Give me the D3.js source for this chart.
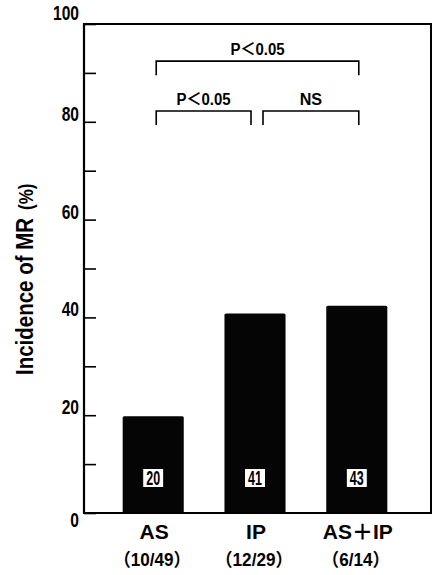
<!DOCTYPE html>
<html>
<head>
<meta charset="utf-8">
<script src="https://cdn.jsdelivr.net/npm/d3@7"></script>
<style>
  body { margin: 0; background: #fff; }
  svg { display: block; }
</style>
</head>
<body>
<svg id="chart" width="434" height="575"></svg>
<script>
// data
var groups = ["AS", "IP", "AS＋IP"];
var counts = ["（10/49）", "（12/29）", "（6/14）"];
var incidence = [19.8, 40.8, 42.4];   // bar heights (%)
var shownValues = ["20", "41", "43"];  // numbers printed in the bars
var yTicks = [0, 20, 40, 60, 80, 100];
var minorTicks = [10, 30, 50, 70, 90];
var comparisons = [
  { from: "AS", to: "AS＋IP", label: "P＜0.05", level: 92.4 },
  { from: "AS", to: "IP", label: "P＜0.05", level: 82.2 },
  { from: "IP", to: "AS＋IP", label: "NS", level: 82.2 }
];

var svg = d3.select("#chart");
var plotL = 84, plotR = 431, plotT = 24, plotB = 513;
var sans = "'Liberation Sans', 'Noto Sans CJK JP', Arial, sans-serif";

var y = d3.scaleLinear().domain([0, 100]).range([plotB, plotT]);
var x = d3.scaleBand().domain(groups).range([plotL, 426]).paddingInner(0.4).paddingOuter(0.38);
var cx = d => x(d) + x.bandwidth() / 2;

// squeezed bold text, to mimic the condensed face of the figure
function narrowText(sel, size, sx) {
  return sel.attr("font-family", sans)
    .attr("font-weight", "bold")
    .attr("font-size", size)
    .attr("x", 0).attr("y", 0)
    .attr("transform", function () {
      return "translate(" + this.__px + "," + this.__py + ") scale(" + sx + ",1)";
    });
}

// frame
svg.append("path")
  .attr("d", "M" + plotL + "," + plotT + "H" + plotR + "V" + plotB)
  .attr("fill", "none").attr("stroke", "#000").attr("stroke-width", 2);

// bars
svg.selectAll("rect.bar")
  .data(groups)
  .enter().append("rect")
  .attr("class", "bar")
  .attr("x", d => x(d))
  .attr("width", x.bandwidth())
  .attr("y", (d, i) => y(incidence[i]))
  .attr("height", (d, i) => y(0) - y(incidence[i]))
  .attr("rx", 1.5)
  .attr("fill", "#050505");

// y axis, ticks pointing inward
var yAxis = d3.axisRight(y).tickValues(yTicks.concat(minorTicks)).tickSize(12).tickFormat("");
var ga = svg.append("g").attr("transform", "translate(" + plotL + ",0)").call(yAxis);
ga.select(".domain").attr("stroke-width", 2.2).attr("d", "M0," + (plotT - 1) + "V" + (plotB + 1));
ga.selectAll(".tick line").attr("stroke-width", 1.6);

svg.selectAll("text.ytl")
  .data(yTicks)
  .enter().append("text")
  .attr("class", "ytl")
  .attr("text-anchor", "end")
  .each(function (d) { this.__px = 79; this.__py = y(d) + (d === 0 ? 14 : d === 100 ? -4 : -1); })
  .call(narrowText, 20, 0.78)
  .text(d => d);

// x axis line
svg.append("line")
  .attr("x1", plotL - 1).attr("x2", plotR + 1)
  .attr("y1", plotB).attr("y2", plotB)
  .attr("stroke", "#000").attr("stroke-width", 2);

// value boxes inside bars
var vb = svg.selectAll("g.vb")
  .data(groups)
  .enter().append("g")
  .attr("class", "vb")
  .attr("transform", d => "translate(" + cx(d) + "," + 478 + ")");
vb.append("rect")
  .attr("x", -10.5).attr("y", -9.5).attr("width", 21).attr("height", 19)
  .attr("fill", "#fff").attr("stroke", "#000").attr("stroke-width", 1);
vb.append("text")
  .attr("text-anchor", "middle")
  .each(function () { this.__px = 0; this.__py = 7; })
  .call(narrowText, 19.5, 0.64)
  .text((d, i) => shownValues[i]);

// category labels
svg.selectAll("text.cat")
  .data(groups)
  .enter().append("text")
  .attr("class", "cat")
  .attr("x", d => cx(d) + 1)
  .attr("y", 539)
  .attr("text-anchor", "middle")
  .attr("font-family", sans)
  .attr("font-weight", "bold")
  .attr("font-size", 21)
  .text(d => d);

svg.selectAll("text.cnt")
  .data(groups)
  .enter().append("text")
  .attr("class", "cnt")
  .attr("text-anchor", "middle")
  .each(function (d) { this.__px = cx(d) - 1; this.__py = 566; })
  .call(narrowText, 18, 0.95)
  .text((d, i) => counts[i]);

// significance brackets
comparisons.forEach(function (c) {
  var x1 = cx(c.from) + (c.from === "IP" ? 8 : 3);
  var x2 = cx(c.to) + (c.to === "IP" ? -4 : 2);
  var yy = y(c.level);
  svg.append("path")
    .attr("d", "M" + x1 + "," + (yy + 14) + "V" + yy + "H" + x2 + "V" + (yy + 14))
    .attr("fill", "none").attr("stroke", "#000").attr("stroke-width", 1.6);
  svg.append("text")
    .attr("text-anchor", "middle")
    .each(function () { this.__px = (x1 + x2) / 2; this.__py = yy - 6; })
    .call(narrowText, 17, c.label === "NS" ? 0.95 : 0.88)
    .text(c.label);
});

// y axis title
var title = svg.append("text")
  .attr("transform", "translate(33,375) rotate(-90) scale(1,1.2)")
  .attr("font-family", sans)
  .attr("font-weight", "bold")
  .attr("font-size", 20.5);
title.append("tspan").text("Incidence of MR");
title.append("tspan").attr("dx", 8).attr("font-size", 17).text("(%)");
</script>
</body>
</html>
